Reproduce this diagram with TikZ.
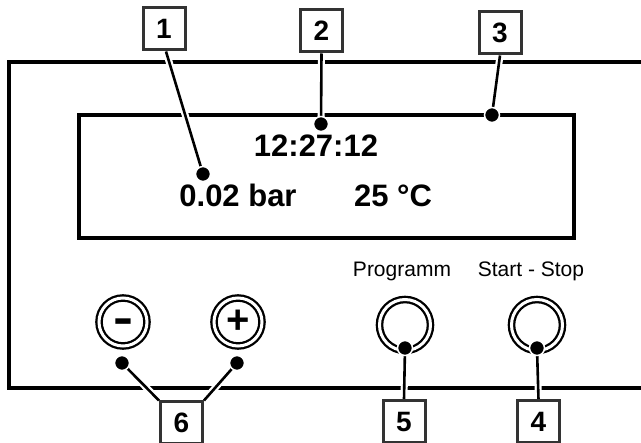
\documentclass[tikz,border=0pt]{standalone}
\usepackage{fontspec}
\usepackage{graphicx}
\setmainfont{Liberation Sans}
\pgfdeclarelayer{back}
\pgfdeclarelayer{mid}
\pgfsetlayers{back,mid,main}
\begin{document}
\begin{tikzpicture}[x=1pt,y=-1pt,
  panel/.style={line width=3.1pt, line cap=rect},
  btn/.style={circle, draw, double, double distance=3pt, line width=2.3pt, minimum size=48pt, inner sep=0pt},
  leader/.style={line width=2.6pt, preaction={draw=white, line width=7pt}},
  dotmark/.style={circle, fill=black, draw=white, line width=1.5pt, minimum size=15pt, inner sep=0pt},
  numbox/.style={draw=black!80, line width=3pt, fill=white, minimum size=42pt, inner sep=0pt, font=\bfseries\fontsize{28}{28}\selectfont},
  disp/.style={font=\bfseries\fontsize{31}{31}\selectfont, anchor=base},
  lab/.style={font=\fontsize{21}{21}\selectfont, anchor=base},
  sign/.style={font=\bfseries\fontsize{40}{40}\selectfont}]
\useasboundingbox (0,0) rectangle (641,443);
\begin{pgfonlayer}{back}
% panel and display
\draw[panel] (660,62) -- (9,62) -- (9,388) -- (660,388);
\draw[panel] (79,115) rectangle (574,238);
% display texts
\node[disp] (time) at (316,157) {12:27:12};
\node[disp] (pres) at (238,207) {0.02 bar};
\node[disp] (temp) at (393,207) {25 °C};
% button labels
\node[lab] (lprog) at (402,277) {Programm};
\node[lab] (lss) at (531,277) {Start - Stop};
% buttons
\node[btn, sign] (bminus) at (123,322) {\vphantom{+}\scalebox{1.5}[1.15]{-}};
\node[btn, sign] (bplus) at (238,322) {+};
\node[btn, minimum size=51pt] (bprog) at (405,325) {};
\node[btn, minimum size=51pt] (bss) at (537,325) {};
\end{pgfonlayer}
% dots
\node[dotmark] (d1) at (203,174) {};
\node[dotmark] (d2) at (321,124) {};
\node[dotmark] (d3) at (492,115) {};
\node[dotmark] (dm) at (122,363) {};
\node[dotmark] (dp) at (237,363) {};
\node[dotmark] (d5) at (405,348) {};
\node[dotmark] (d4) at (537,348) {};
% number boxes
\node[numbox] (n1) at (164,29) {1};
\node[numbox] (n2) at (321.5,31) {2};
\node[numbox] (n3) at (500,33) {3};
\node[numbox] (n6) at (181.5,423) {6};
\node[numbox] (n5) at (404,422) {5};
\node[numbox] (n4) at (538.5,422) {4};
% leaders
\begin{pgfonlayer}{mid}
\draw[leader] ([xshift=2pt]n1.south) -- (d1.center);
\draw[leader] (n2.south) -- (d2.center);
\draw[leader] (n3.south) -- (d3.center);
\draw[leader] (n6.north west) -- (dm.center);
\draw[leader] (n6.north east) -- (dp.center);
\draw[leader] (n5.north) -- (d5.center);
\draw[leader] (n4.north) -- (d4.center);
\end{pgfonlayer}
\end{tikzpicture}
\end{document}
